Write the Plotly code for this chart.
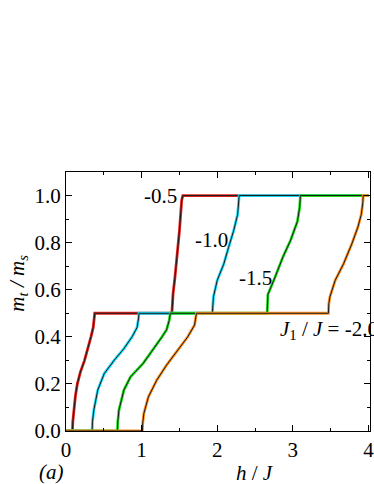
import plotly.graph_objects as go

# magnetization curves m_t/m_s vs h/J for several J1/J
h_05 = [0, 0.085, 0.09, 0.104, 0.125, 0.15, 0.19, 0.245, 0.29, 0.33, 0.36, 0.375, 0.38, 1.40, 1.405, 1.416, 1.44, 1.46, 1.50, 1.53, 1.545, 4.0]
m_05 = [0, 0, 0.04, 0.089, 0.15, 0.20, 0.25, 0.30, 0.35, 0.40, 0.44, 0.48, 0.5, 0.5, 0.54, 0.584, 0.65, 0.71, 0.85, 0.98, 1.0, 1.0]

h_10 = [0, 0.346, 0.35, 0.368, 0.42, 0.506, 0.636, 0.766, 0.874, 0.94, 0.96, 0.965, 1.935, 1.94, 1.95, 2.0, 2.087, 2.15, 2.216, 2.27, 2.285, 2.29, 4.0]
m_10 = [0, 0, 0.04, 0.089, 0.174, 0.244, 0.30, 0.35, 0.40, 0.44, 0.48, 0.5, 0.5, 0.54, 0.57, 0.64, 0.71, 0.78, 0.85, 0.92, 0.97, 1.0, 1.0]

h_15 = [0, 0.68, 0.685, 0.70, 0.766, 0.853, 1.02, 1.18, 1.27, 1.33, 1.365, 1.38, 2.66, 2.665, 2.67, 2.76, 2.87, 2.97, 3.06, 3.09, 3.10, 4.0]
m_15 = [0, 0, 0.04, 0.089, 0.174, 0.23, 0.287, 0.357, 0.40, 0.43, 0.47, 0.5, 0.5, 0.54, 0.58, 0.65, 0.74, 0.81, 0.89, 0.95, 1.0, 1.0]

h_20 = [0, 1.01, 1.015, 1.03, 1.09, 1.20, 1.33, 1.48, 1.61, 1.70, 1.715, 1.725, 3.47, 3.475, 3.49, 3.56, 3.67, 3.78, 3.86, 3.905, 3.925, 3.93, 4.0]
m_20 = [0, 0, 0.035, 0.075, 0.145, 0.216, 0.28, 0.343, 0.40, 0.45, 0.48, 0.5, 0.5, 0.54, 0.57, 0.64, 0.71, 0.795, 0.866, 0.92, 0.97, 1.0, 1.0]

CURVES = [
    (h_05, m_05, "#e0201c"),
    (h_10, m_10, "#19dcf8"),
    (h_15, m_15, "#20e020"),
    (h_20, m_20, "#ff9020"),
]

FONT = "Liberation Serif"
L, T, R, B = 66, 172, 0, 53
W, H = 374, 484
PW, PH = W - L - R, H - T - B


def px_x(p):
    return (p - L) / PW


def px_y(p):
    return (H - B - p) / PH


fig = go.Figure()
for h, m, col in CURVES:
    fig.add_trace(go.Scatter(x=h, y=m, mode="lines", line=dict(color=col, width=2.8), showlegend=False))
    fig.add_trace(go.Scatter(x=h, y=m, mode="lines", line=dict(color="#1a1a1a", width=1.0), showlegend=False))

label_font = dict(family=FONT, size=21, color="black")
fig.add_annotation(x=1.49, y=1.0, text="-0.5", showarrow=False, xanchor="right", yanchor="middle", font=label_font)
fig.add_annotation(x=2.17, y=0.81, text="-1.0", showarrow=False, xanchor="right", yanchor="middle", font=label_font)
fig.add_annotation(x=2.75, y=0.65, text="-1.5", showarrow=False, xanchor="right", yanchor="middle", font=label_font)
fig.add_annotation(x=2.8, y=0.43, text="<i>J</i><sub>1</sub> / <i>J</i> = -2.0", showarrow=False,
                   xanchor="left", yanchor="middle", font=label_font)

fig.add_annotation(xref="paper", yref="paper", x=px_x(17), y=px_y(283), textangle=-90,
                   text="<i>m</i><sub><i>t</i></sub><i> / m</i><sub><i>s</i></sub>",
                   showarrow=False, xanchor="center", yanchor="middle", font=label_font)
fig.add_annotation(xref="paper", yref="paper", x=px_x(257), y=px_y(473), text="<i>h</i> / <i>J</i>",
                   showarrow=False, xanchor="center", yanchor="middle", font=label_font)
fig.add_annotation(xref="paper", yref="paper", x=px_x(51), y=px_y(472), text="<i>(a)</i>",
                   showarrow=False, xanchor="center", yanchor="middle", font=label_font)

axis_common = dict(
    showline=True, linecolor="black", linewidth=1.2, mirror="ticks",
    ticks="inside", ticklen=6, tickwidth=1.2, tickcolor="black",
    showgrid=False, zeroline=False,
    tickfont=dict(family=FONT, size=21, color="black"),
)
fig.update_xaxes(range=[0, 4.02], dtick=1, tick0=0, ticklabeloverflow="allow",
                 minor=dict(dtick=0.5, ticks="inside", ticklen=3, tickcolor="black"), **axis_common)
fig.update_yaxes(range=[0, 1.1], dtick=0.2, tick0=0, tickformat=".1f",
                 minor=dict(dtick=0.1, ticks="inside", ticklen=3, tickcolor="black"), **axis_common)

fig.update_layout(
    width=W, height=H,
    margin=dict(l=L, r=R, t=T, b=B),
    paper_bgcolor="white", plot_bgcolor="white",
    font=dict(family=FONT),
)

fig.write_html(
    "out.html",
    config={"displayModeBar": False},
    post_script="document.body.style.margin='0';document.body.style.overflow='hidden';",
)
